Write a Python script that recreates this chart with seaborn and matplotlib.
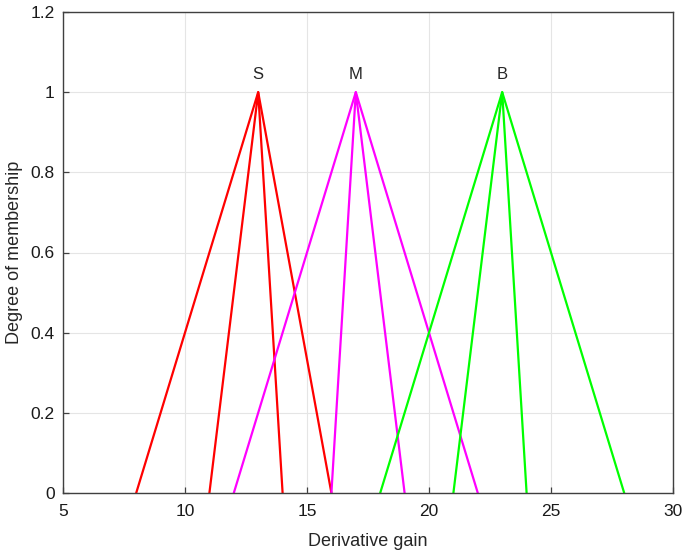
import matplotlib
matplotlib.use("Agg")
import matplotlib.pyplot as plt
import seaborn as sns
import pandas as pd

# membership functions: (set name, left, peak, right)
set_names = ["S", "S", "M", "M", "B", "B"]
left_pts = [8, 11, 12, 16, 18, 21]
peak_pts = [13, 13, 17, 17, 23, 23]
right_pts = [16, 14, 22, 19, 28, 24]
colors = {"S": "#ff0000", "M": "#ff00ff", "B": "#00ff00"}
label_x = [13, 17, 23]
label_txt = ["S", "M", "B"]

rows = []
for i, (n, a, b, c) in enumerate(zip(set_names, left_pts, peak_pts, right_pts)):
    for x, y in [(a, 0), (b, 1), (c, 0)]:
        rows.append({"mf": f"{n}{i}", "set": n, "x": x, "y": y})
df = pd.DataFrame(rows)

sns.set_style("white")
plt.rcParams['font.family'] = ['Liberation Sans', 'DejaVu Sans']

fig = plt.figure(figsize=(6.85, 5.56), dpi=100)
ax = fig.add_axes([63 / 685, 63 / 556, 610 / 685, 481 / 556])

for mf, g in df.groupby("mf", sort=False):
    sns.lineplot(data=g, x="x", y="y", color=colors[g["set"].iloc[0]],
                 linewidth=1.6, sort=False, estimator=None, ax=ax)

for x, t in zip(label_x, label_txt):
    ax.text(x, 1.025, t, ha="center", va="bottom", fontsize=12)

ax.set_xlim(5, 30)
ax.set_ylim(0, 1.2)
ax.set_xticks([5, 10, 15, 20, 25, 30])
ax.set_yticks([0, 0.2, 0.4, 0.6, 0.8, 1, 1.2])
ax.set_yticklabels(["0", "0.2", "0.4", "0.6", "0.8", "1", "1.2"])
ax.grid(True, color="#e5e5e5", linewidth=0.8)
ax.set_axisbelow(True)
ax.tick_params(direction="in", length=4, width=0.9, labelsize=12.5,
               color="#404040", labelcolor="#1a1a1a",
               bottom=True, left=True, top=False, right=False)
ax.tick_params(axis="x", pad=8)
ax.tick_params(axis="y", pad=6)
for s in ax.spines.values():
    s.set_color("#404040")
    s.set_linewidth(1.0)
ax.set_xlabel("Derivative gain", fontsize=13, labelpad=10)
ax.set_ylabel("Degree of membership", fontsize=13, labelpad=5)

fig.savefig("out.png", dpi=100)
